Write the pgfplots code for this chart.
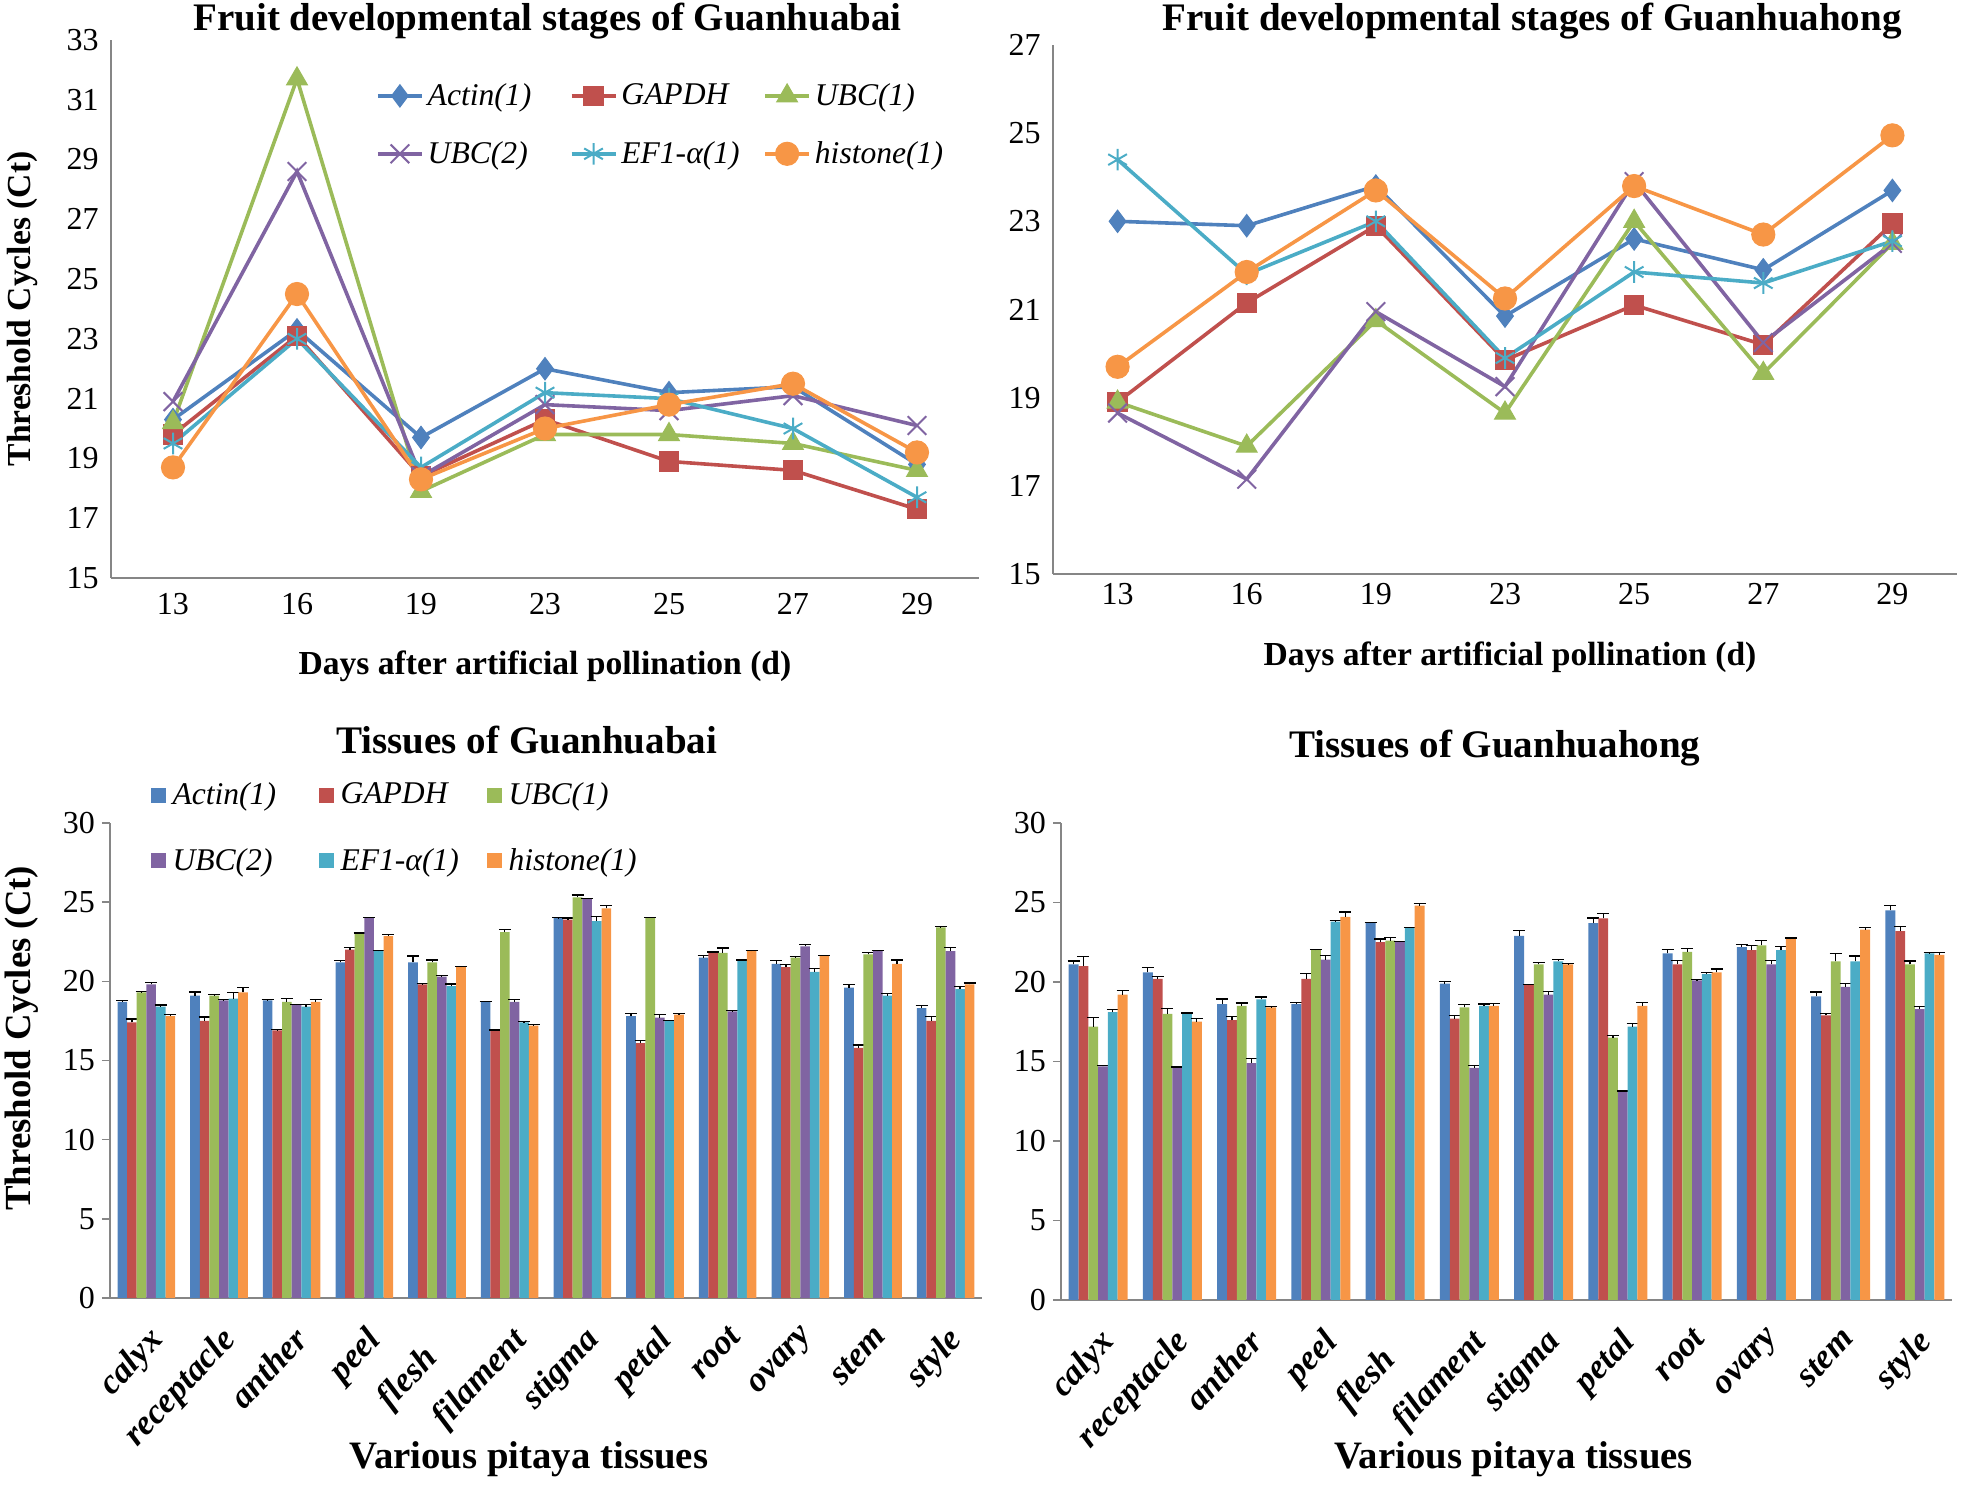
\documentclass[border=0pt]{standalone}
\usepackage{fontspec}
\setmainfont{Liberation Serif}
\usepackage{pgfplots}
\usepackage{pgfplotstable}
\pgfplotsset{compat=1.18}

\definecolor{cA}{HTML}{4F81BD}
\definecolor{cG}{HTML}{C0504D}
\definecolor{cU}{HTML}{9BBB59}
\definecolor{cV}{HTML}{8064A2}
\definecolor{cE}{HTML}{4BACC6}
\definecolor{cH}{HTML}{F79646}
\definecolor{axgray}{HTML}{868686}

% Fruit developmental stages, Guanhuabai
\pgfplotstableread{
x A G U V E H
1 20.3 19.8 20.2 20.9 19.5 18.7
2 23.3 23.1 31.7 28.6 23.0 24.5
3 19.7 18.4 17.9 18.4 18.7 18.3
4 22.0 20.3 19.8 20.8 21.2 20.0
5 21.2 18.9 19.8 20.6 21.0 20.8
6 21.4 18.6 19.5 21.1 20.0 21.5
7 18.8 17.3 18.6 20.1 17.7 19.2
}\lineL

% Fruit developmental stages, Guanhuahong
\pgfplotstableread{
x A G U V E H
1 23.0 18.9 18.9 18.65 24.4 19.7
2 22.9 21.15 17.9 17.15 21.8 21.85
3 23.8 22.9 20.75 20.95 23.0 23.7
4 20.85 19.85 18.65 19.25 19.9 21.25
5 22.6 21.1 23.0 23.9 21.85 23.8
6 21.9 20.2 19.55 20.25 21.6 22.7
7 23.7 22.95 22.5 22.5 22.55 24.95
}\lineR

% Tissues of Guanhuabai
\pgfplotstableread{
x A Ae G Ge U Ue V Ve E Ee H He
0 18.7 0.10 17.4 0.22 19.3 0.05 19.8 0.15 18.4 0.10 17.8 0.10
1 19.1 0.22 17.5 0.25 19.1 0.05 18.8 0.03 18.9 0.38 19.3 0.30
2 18.8 0.03 16.9 0.05 18.7 0.20 18.5 0.05 18.4 0.15 18.7 0.13
3 21.2 0.13 22.0 0.13 23.0 0.05 24.0 0.05 21.9 0.05 22.85 0.13
4 21.2 0.40 19.8 0.05 21.2 0.15 20.3 0.05 19.7 0.13 20.9 0.05
5 18.7 0.03 16.9 0.03 23.1 0.18 18.7 0.13 17.4 0.05 17.2 0.05
6 24.0 0.03 23.9 0.10 25.3 0.15 25.2 0.05 23.8 0.30 24.6 0.18
7 17.8 0.15 16.1 0.15 24.0 0.05 17.7 0.18 17.5 0.05 17.9 0.05
8 21.5 0.13 21.8 0.05 21.8 0.30 18.1 0.05 21.3 0.05 21.9 0.05
9 21.1 0.22 20.9 0.18 21.5 0.05 22.2 0.13 20.6 0.22 21.6 0.05
10 19.6 0.18 15.8 0.18 21.7 0.13 21.9 0.07 19.1 0.13 21.1 0.25
11 18.3 0.15 17.5 0.30 23.4 0.05 21.9 0.22 19.5 0.15 19.8 0.10
}\barL

% Tissues of Guanhuahong
\pgfplotstableread{
x A Ae G Ge U Ue V Ve E Ee H He
0 21.1 0.22 21.0 0.60 17.2 0.58 14.7 0.05 18.1 0.15 19.2 0.25
1 20.6 0.33 20.2 0.15 18.0 0.33 14.6 0.05 18.0 0.05 17.5 0.18
2 18.6 0.33 17.6 0.22 18.5 0.18 14.9 0.27 18.9 0.15 18.4 0.05
3 18.6 0.13 20.2 0.33 22.0 0.05 21.4 0.25 23.8 0.05 24.1 0.30
4 23.7 0.05 22.5 0.20 22.6 0.18 22.5 0.05 23.4 0.05 24.8 0.15
5 19.9 0.11 17.7 0.20 18.4 0.20 14.6 0.13 18.5 0.11 18.5 0.15
6 22.9 0.33 19.8 0.05 21.1 0.13 19.2 0.22 21.3 0.10 21.1 0.05
7 23.7 0.33 24.0 0.33 16.5 0.13 13.1 0.05 17.2 0.18 18.5 0.22
8 21.8 0.22 21.1 0.25 21.9 0.20 20.1 0.05 20.5 0.11 20.6 0.22
9 22.2 0.18 22.0 0.30 22.3 0.33 21.1 0.27 22.0 0.22 22.7 0.07
10 19.1 0.27 17.9 0.13 21.3 0.50 19.7 0.22 21.3 0.33 23.3 0.15
11 24.5 0.30 23.2 0.27 21.1 0.22 18.3 0.15 21.8 0.05 21.7 0.15
}\barR

\pgfplotsset{
  base/.style={
    scale only axis, anchor=south west,
    axis x line*=bottom, axis y line*=left,
    axis line style={-, draw=axgray, line width=0.8pt},
    tick style={draw=none},
    /pgf/number format/assume math mode=true,
    tick label style={font=\rmfamily\fontsize{16}{18}\selectfont},
    every axis title shift=0pt,
    title style={font=\rmfamily\fontsize{19.5}{22}\selectfont\bfseries, anchor=center},
    clip=false,
  },
  lineax/.style={base,
    xmin=0.5, xmax=7.5, xtick={1,...,7}, xticklabels={13,16,19,23,25,27,29},
    xlabel={Days after artificial pollination (d)},
    label style={font=\rmfamily\fontsize{16.8}{19}\selectfont\bfseries},
    xticklabel style={yshift=-4pt}, yticklabel style={xshift=-2.7pt},
  },
  barax/.style={base,
    ybar=0pt, xmin=-0.5, xmax=11.5, ymin=0, ymax=30,
    xtick={0,...,11},
    xticklabels={calyx,receptacle,anther,peel,{flesh\hspace*{12pt}},filament,stigma,petal,root,ovary,stem,style},
    ytick={0,5,...,30},
    ytick style={draw=axgray, line width=0.8pt}, tick align=outside, major tick length=4pt,
    xticklabel style={font=\rmfamily\fontsize{17.5}{19}\selectfont\bfseries\itshape, yshift=-9pt, rotate=47, anchor=north east, inner sep=0pt},
    xlabel={Various pitaya tissues},
    xlabel style={font=\rmfamily\fontsize{19.4}{22}\selectfont\bfseries},
    ylabel style={font=\rmfamily\fontsize{18.4}{21}\selectfont\bfseries},
  },
  ln/.style={line width=1.8pt},
  bp/.style={fill=#1, draw=none, error bars/y dir=plus, error bars/y explicit,
    error bars/error bar style={black, line width=0.6pt},
    error bars/error mark options={rotate=90, mark size=3pt, black, line width=0.6pt}},
}

\begin{document}
\begin{tikzpicture}
\path[use as bounding box] (0,0) rectangle (983.5pt,743.5pt);

% ---------------- top left ----------------
\begin{axis}[lineax,
  at={(55.5pt,454.5pt)}, width=434pt, height=269pt,
  ymin=15, ymax=33, ytick={15,17,...,33},
  title={Fruit developmental stages of Guanhuabai},
  title style={at={(axis description cs:0.503,1.035)}},
  xlabel style={at={(axis description cs:0.5,-0.1636)}, anchor=center},
  ylabel={Threshold Cycles (Ct)},
  ylabel style={at={(axis description cs:-0.1025,0.5)}, anchor=center},
  legend columns=3, legend cell align=left,
  legend style={at={(axis description cs:0.305,0.92)}, anchor=north west,
    draw=none, fill=none, inner sep=0pt, row sep=16.5pt,
    font=\rmfamily\itshape\fontsize{15.8}{18}\selectfont,
    nodes={inner sep=0pt, text width=71pt, align=left},
    /tikz/every odd column/.append style={column sep=2pt}},
  legend image code/.code={\draw[mark repeat=2,mark phase=2,#1] plot coordinates {(0pt,0pt) (11pt,0pt) (22pt,0pt)};},
]
\addplot[ln, cA, mark=diamond*, mark size=5.6pt, mark options={solid, fill=cA, line width=0.5pt}] table[x=x,y=A]{\lineL};
\addlegendentry{Actin(1)}
\addplot[ln, cG, mark=square*, mark size=4.8pt, mark options={solid, fill=cG, line width=0.5pt}] table[x=x,y=G]{\lineL};
\addlegendentry{GAPDH}
\addplot[ln, cU, mark=triangle*, mark size=6pt, mark options={solid, fill=cU, line width=0.5pt}] table[x=x,y=U]{\lineL};
\addlegendentry{UBC(1)}
\addplot[ln, cV, mark=x, mark size=6.6pt, mark options={solid, line width=1pt}] table[x=x,y=V]{\lineL};
\addlegendentry{UBC(2)}
\addplot[ln, cE, mark=asterisk, mark size=5.4pt, mark options={solid, line width=1pt}] table[x=x,y=E]{\lineL};
\addlegendentry{EF1-α(1)}
\addplot[ln, cH, mark=*, mark size=5.8pt, mark options={solid, fill=cH, line width=0.5pt}] table[x=x,y=H]{\lineL};
\addlegendentry{histone(1)}
\end{axis}

% ---------------- top right ----------------
\begin{axis}[lineax,
  at={(526.5pt,456.5pt)}, width=452pt, height=264.5pt,
  ymin=15, ymax=27, ytick={15,17,...,27},
  title={Fruit developmental stages of Guanhuahong},
  title style={at={(axis description cs:0.53,1.045)}},
  xlabel style={at={(axis description cs:0.5055,-0.157)}, anchor=center},
  xticklabel style={yshift=3pt},
]
\addplot[ln, cA, mark=diamond*, mark size=5.6pt, mark options={solid, fill=cA, line width=0.5pt}] table[x=x,y=A]{\lineR};
\addplot[ln, cG, mark=square*, mark size=4.8pt, mark options={solid, fill=cG, line width=0.5pt}] table[x=x,y=G]{\lineR};
\addplot[ln, cU, mark=triangle*, mark size=6pt, mark options={solid, fill=cU, line width=0.5pt}] table[x=x,y=U]{\lineR};
\addplot[ln, cV, mark=x, mark size=6.6pt, mark options={solid, line width=1pt}] table[x=x,y=V]{\lineR};
\addplot[ln, cE, mark=asterisk, mark size=5.4pt, mark options={solid, line width=1pt}] table[x=x,y=E]{\lineR};
\addplot[ln, cH, mark=*, mark size=5.8pt, mark options={solid, fill=cH, line width=0.5pt}] table[x=x,y=H]{\lineR};
\end{axis}

% ---------------- bottom left ----------------
\begin{axis}[barax,
  at={(55pt,94.5pt)}, width=436pt, height=237.5pt, bar width=4.8pt,
  title={Tissues of Guanhuabai},
  title style={at={(axis description cs:0.478,1.175)}},
  xlabel style={at={(axis description cs:0.4805,-0.339)}, anchor=center},
  ylabel={Threshold Cycles (Ct)},
  ylabel style={at={(axis description cs:-0.101,0.547)}, anchor=center},
  legend columns=3, legend cell align=left,
  legend style={at={(axis description cs:0.046,1.086)}, anchor=north west,
    draw=none, fill=none, inner sep=0pt, row sep=20.5pt,
    font=\rmfamily\itshape\fontsize{15.8}{18}\selectfont,
    nodes={inner sep=0pt, text width=73pt, align=left},
    /tikz/every odd column/.append style={column sep=3.5pt}},
  legend image code/.code={\fill[#1,draw=none] (0pt,-3.75pt) rectangle (7.5pt,3.75pt);},
]
\addplot[bp=cA] table[x=x,y=A,y error=Ae]{\barL};
\addlegendentry{Actin(1)}
\addplot[bp=cG] table[x=x,y=G,y error=Ge]{\barL};
\addlegendentry{GAPDH}
\addplot[bp=cU] table[x=x,y=U,y error=Ue]{\barL};
\addlegendentry{UBC(1)}
\addplot[bp=cV] table[x=x,y=V,y error=Ve]{\barL};
\addlegendentry{UBC(2)}
\addplot[bp=cE] table[x=x,y=E,y error=Ee]{\barL};
\addlegendentry{EF1-α(1)}
\addplot[bp=cH] table[x=x,y=H,y error=He]{\barL};
\addlegendentry{histone(1)}
\end{axis}

% ---------------- bottom right ----------------
\begin{axis}[barax,
  at={(530.5pt,93.5pt)}, width=445.5pt, height=238.5pt, bar width=4.9pt,
  title={Tissues of Guanhuahong},
  title style={at={(axis description cs:0.487,1.157)}},
  xlabel style={at={(axis description cs:0.508,-0.333)}, anchor=center},
]
\addplot[bp=cA] table[x=x,y=A,y error=Ae]{\barR};
\addplot[bp=cG] table[x=x,y=G,y error=Ge]{\barR};
\addplot[bp=cU] table[x=x,y=U,y error=Ue]{\barR};
\addplot[bp=cV] table[x=x,y=V,y error=Ve]{\barR};
\addplot[bp=cE] table[x=x,y=E,y error=Ee]{\barR};
\addplot[bp=cH] table[x=x,y=H,y error=He]{\barR};
\end{axis}
\end{tikzpicture}
\end{document}
